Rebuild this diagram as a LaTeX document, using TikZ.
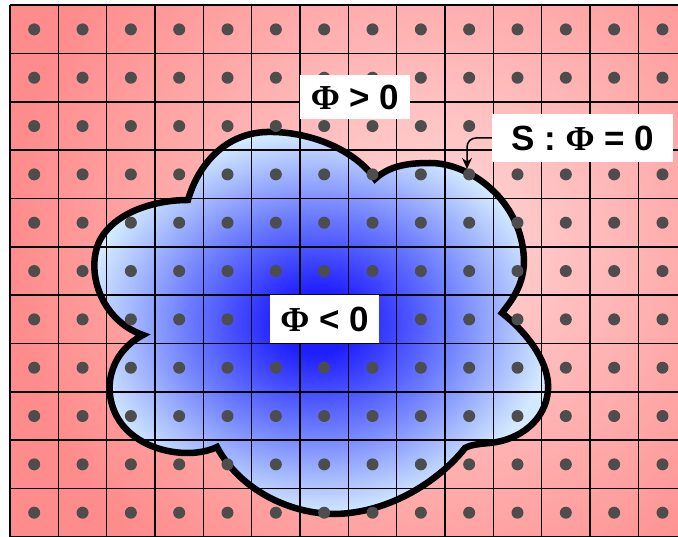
\documentclass[tikz,border=0pt]{standalone}
\usepackage{fontspec}
\setmainfont{Liberation Sans}
\newfontfamily\phifont{Liberation Serif}
\usepackage{tikz}
\usetikzlibrary{arrows.meta}
\definecolor{pinklight}{HTML}{FFDADA}
\definecolor{pinkdark}{HTML}{FF8C8C}
\definecolor{bluedeep}{HTML}{1E1EFF}
\definecolor{bluemid}{HTML}{6C7CFF}
\definecolor{bluepale}{HTML}{D2E9FF}
\definecolor{dotgray}{HTML}{4D4D4D}
\pgfdeclareradialshading{inside}{\pgfpointorigin}{color(0bp)=(bluedeep); color(4bp)=(bluedeep);
  color(14bp)=(bluemid); color(25bp)=(bluepale); color(50bp)=(bluepale)}
\newcommand{\Phisym}{{\phifont\bfseries Φ}}
\newcommand{\blobpath}{(188,200) .. controls (198,165) and (225,133) .. (267,132)
  .. controls (310,131) and (355,150) .. (375,179)
  .. controls (390,165) and (410,163) .. (430,163)
  .. controls (470,163) and (522,200) .. (524,260)
  .. controls (524,285) and (512,300) .. (502,313)
  .. controls (530,335) and (550,365) .. (548,390)
  .. controls (546,420) and (520,440) .. (490,443)
  .. controls (478,444) and (470,445) .. (465,448)
  .. controls (440,480) and (390,513) .. (335,514)
  .. controls (290,514) and (240,490) .. (217,447)
  .. controls (195,458) and (150,455) .. (125,428)
  .. controls (100,400) and (105,355) .. (143,335)
  .. controls (100,320) and (85,270) .. (100,240)
  .. controls (115,212) and (155,200) .. (188,200) -- cycle}

\begin{document}
\begin{tikzpicture}[x=1pt, y=-1pt,
  tag/.style={fill=white, inner sep=0pt, font=\bfseries\fontsize{35}{40}\selectfont},
  cellline/.style={line width=1.5pt, black},
  dot/.style={fill=dotgray}
]
\useasboundingbox (0,0) rectangle (678,537);

% outside region
\begin{scope}
  \clip (10,5.2) rectangle (678,537);
  \shade[inner color=pinklight, outer color=pinkdark] (10,-180) rectangle (850,660);
\end{scope}

% inside region
\shade[shading=inside] \blobpath;

% grid
\foreach \k in {0,...,14}
  \draw[cellline] (10+48.33*\k,5.2) -- (10+48.33*\k,540);
\foreach \k in {0,...,11}
  \draw[cellline] (10,5.2+48.33*\k) -- (690,5.2+48.33*\k);

% interface
\draw[line width=6.5pt] \blobpath;

% grid points
\foreach \i in {0,...,13}
  \foreach \j in {0,...,10}
    \fill[dot] (34.2+48.33*\i,29.4+48.33*\j) circle (6);

\node[tag, minimum width=110, minimum height=44] (phipos) at (355,97) {\Phisym{} > 0};
\node[tag, minimum width=109, minimum height=48] (phineg) at (324.5,319) {\Phisym{} < 0};
\node[tag, minimum width=181, minimum height=48] (surf) at (582.5,138) {S : \Phisym{} = 0};

\coordinate (sTip) at (467,169);
\draw[line width=1.5pt, -{Stealth[length=11pt, width=10pt]}, rounded corners=9pt] (surf.west) -| (sTip);

\end{tikzpicture}
\end{document}
